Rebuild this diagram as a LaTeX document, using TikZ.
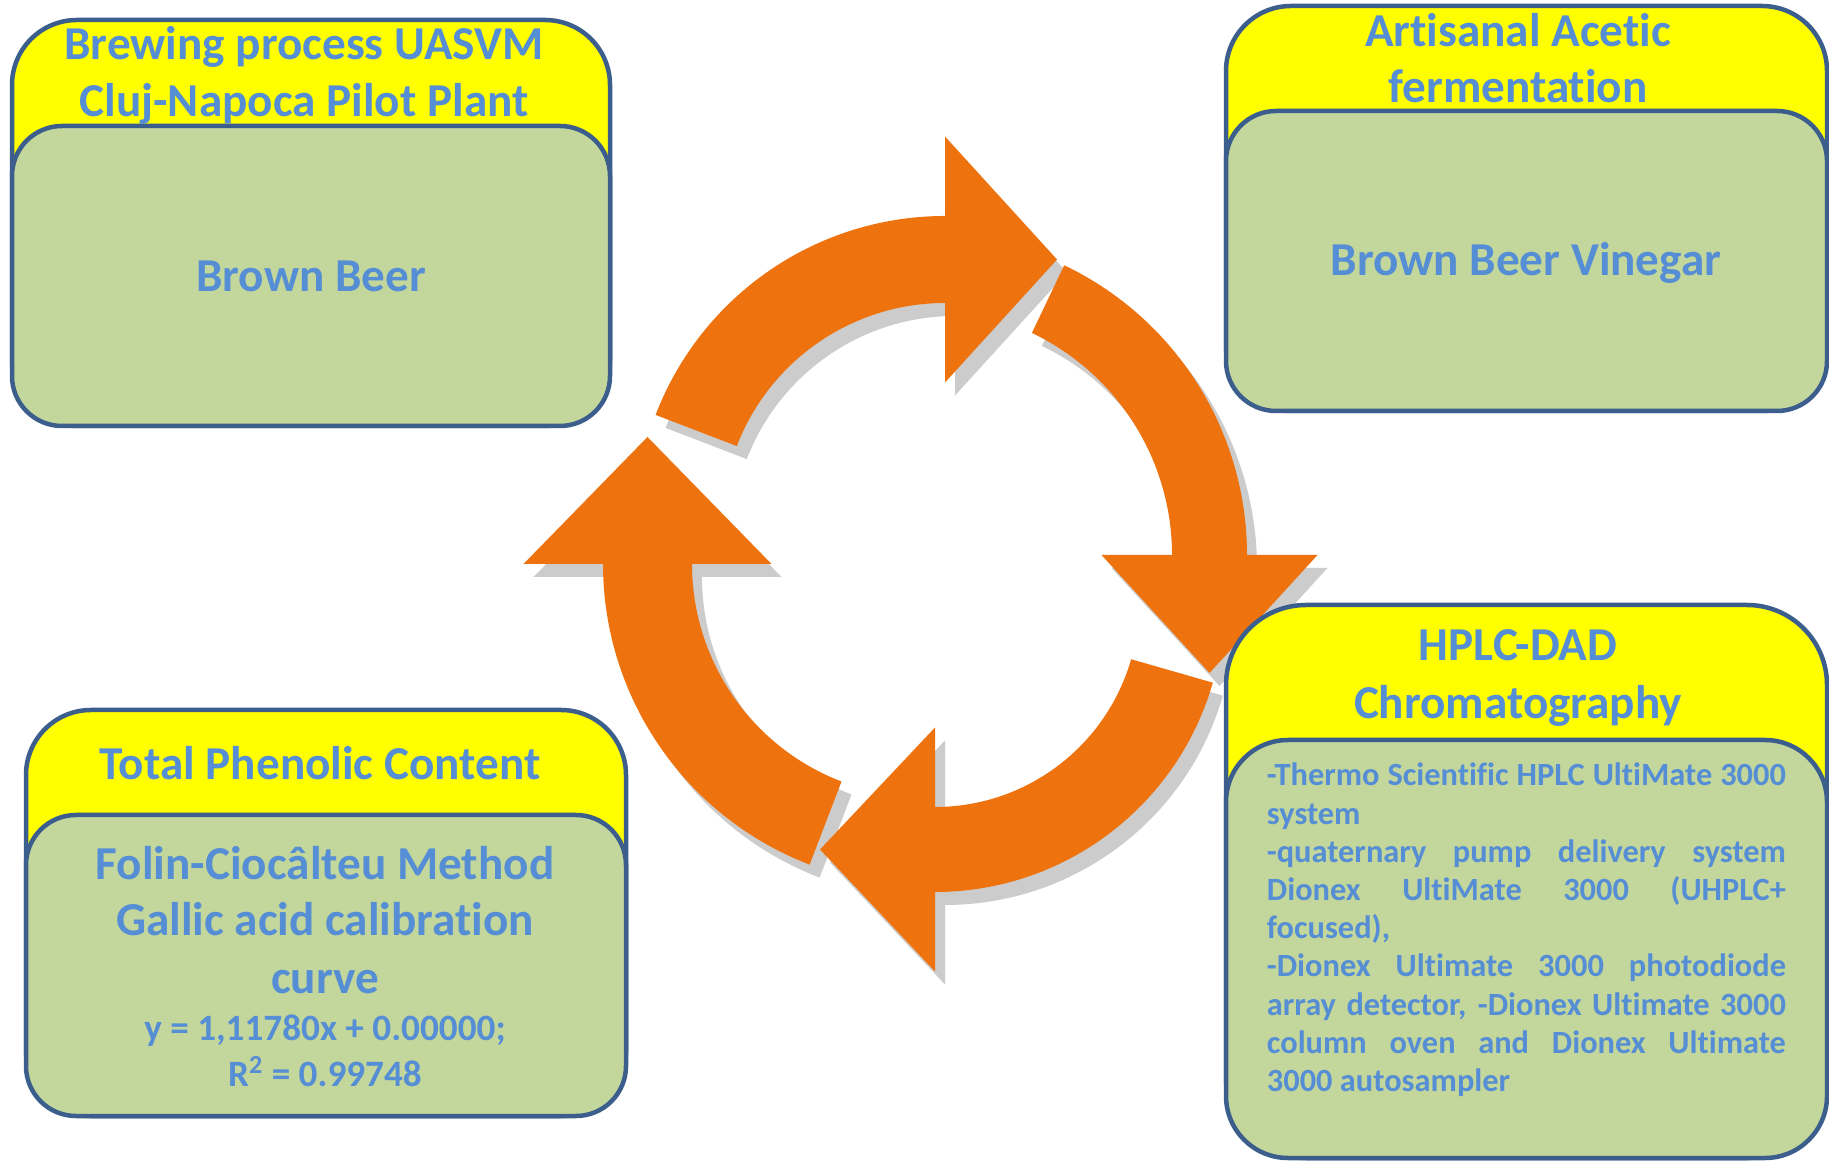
\documentclass[tikz,border=0pt]{standalone}
\usepackage{fontspec}
\setmainfont{Carlito}[Ligatures={NoCommon}]
\usetikzlibrary{calc}
\definecolor{txtblue}{HTML}{558ED5}
\definecolor{hdryellow}{HTML}{FFFF00}
\definecolor{boxgreen}{HTML}{C3D69B}
\definecolor{boxborder}{HTML}{3B5E8C}
\definecolor{arroworange}{HTML}{EE730F}
\definecolor{arrowshadow}{HTML}{CCCCCC}
\tikzset{
  hdr/.style={fill=hdryellow, draw=boxborder, line width=2.25pt},
  bodybox/.style={fill=boxgreen, draw=boxborder, line width=2.25pt},
  bigtxt/.style={text=txtblue, font=\bfseries\fontsize{23.6}{28}\selectfont, inner sep=0pt, anchor=base},
  eqtxt/.style={text=txtblue, font=\bfseries\fontsize{18.6}{22}\selectfont, inner sep=0pt, anchor=base},
  smalltxt/.style={text=txtblue, font=\bfseries\fontsize{16.2}{19}\selectfont, inner sep=0pt, anchor=base west},
  arrowfill/.style={fill=arroworange},
  arrowshade/.style={fill=arrowshadow, shift={(10,-13)}},
}
\def\toparrow{(159:310) arc[start angle=159,end angle=90,radius=310] -- (90:389.5) -- (112,266.5) -- (90:143.5) -- (90:223) arc[start angle=90,end angle=159,radius=223] -- cycle}
\def\rightarrow{(64.5:321) arc[start angle=64.5,end angle=0,radius=321] -- (0:391.5) -- (283.5,-118) -- (0:175.5) -- (0:246) arc[start angle=0,end angle=64.5,radius=246] -- cycle}
\def\bottomarrow{(-16:289) arc[start angle=-16,end angle=-90,radius=289] -- (-90:368.5) -- (-115,-246.5) -- (-90:124.5) -- (-90:204) arc[start angle=-90,end angle=-16,radius=204] -- cycle}
\def\leftarrow{(249:322) arc[start angle=249,end angle=180,radius=322] -- (180:401.5) -- (-277.5,127) -- (180:153.5) -- (180:233) arc[start angle=180,end angle=249,radius=233] -- cycle}
\newcommand{\jline}[1]{\makebox[259.5pt][s]{#1}}
\begin{document}
\begin{tikzpicture}[x=0.5pt,y=0.5pt]
\useasboundingbox (0,0) rectangle (1829,1161);
\fill[white] (0,0) rectangle (1829,1161);
% shadows
\fill[arrowshade, shift={(945,635)}] \toparrow;
\fill[arrowshade, shift={(926,606)}] \rightarrow;
\fill[arrowshade, shift={(935,558)}] \bottomarrow;
\fill[arrowshade, shift={(925,597)}] \leftarrow;
% arrows
\fill[arrowfill, shift={(945,635)}] \toparrow;
\fill[arrowfill, shift={(926,606)}] \rightarrow;
\fill[arrowfill, shift={(935,558)}] \bottomarrow;
\fill[arrowfill, shift={(925,597)}] \leftarrow;
% box 1
\draw[hdr, rounded corners=32.5pt] (12,735) rectangle (610,1141);
\draw[bodybox, rounded corners=25pt] (12,735) rectangle (610,1035);
\node[bigtxt] (t1a) at (304,1101) {Brewing process UASVM};
\node[bigtxt] (t1b) at (304,1044) {Cluj-Napoca Pilot Plant};
\node[bigtxt] (b1) at (311,869) {Brown Beer};
% box 2
\draw[hdr, rounded corners=32.5pt] (1226,750) rectangle (1827,1155);
\draw[bodybox, rounded corners=25pt] (1226,750) rectangle (1827,1050);
\node[bigtxt] (t2a) at (1518,1114) {Artisanal Acetic};
\node[bigtxt] (t2b) at (1518,1058) {fermentation};
\node[bigtxt] (b2) at (1526,885) {Brown Beer Vinegar};
% box 3
\draw[hdr, rounded corners=32.5pt] (26,45) rectangle (626,451);
\draw[bodybox, rounded corners=25pt] (26,45) rectangle (626,346);
\node[bigtxt] (t3) at (320,381) {Total Phenolic Content};
\node[bigtxt] (b3a) at (325,281) {Folin-Ciocâlteu Method};
\node[bigtxt] (b3b) at (325,225) {Gallic acid calibration};
\node[bigtxt] (b3c) at (325,167) {curve};
\node[eqtxt] (b3d) at (325,120) {y = 1,11780x + 0.00000;};
\node[eqtxt] (b3e) at (325,75) {R\textsuperscript{2} = 0.99748};
% box 4
\draw[hdr, rounded corners=40pt] (1226,3) rectangle (1827,556);
\draw[bodybox, rounded corners=31pt] (1226,3) rectangle (1827,421);
\node[bigtxt] (t4a) at (1518,500) {HPLC-DAD};
\node[bigtxt] (t4b) at (1518,442.5) {Chromatography};
\node[smalltxt] (l1) at (1266.5,375) {\jline{-Thermo Scientific HPLC UltiMate 3000}};
\node[smalltxt] (l2) at (1266.5,336.8) {system};
\node[smalltxt] (l3) at (1266.5,298.6) {\jline{-quaternary pump delivery system}};
\node[smalltxt] (l4) at (1266.5,260.4) {\jline{Dionex UltiMate 3000 (UHPLC+}};
\node[smalltxt] (l5) at (1266.5,222.2) {focused),};
\node[smalltxt] (l6) at (1266.5,184) {\jline{-Dionex Ultimate 3000 photodiode}};
\node[smalltxt] (l7) at (1266.5,145.8) {\jline{array detector, -Dionex Ultimate 3000}};
\node[smalltxt] (l8) at (1266.5,107.6) {\jline{column oven and Dionex Ultimate}};
\node[smalltxt] (l9) at (1266.5,69.4) {3000 autosampler};
\end{tikzpicture}
\end{document}
